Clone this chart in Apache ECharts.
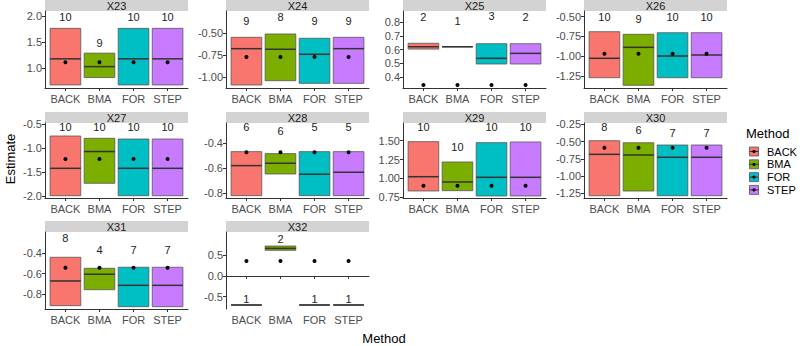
<!DOCTYPE html>
<html><head><meta charset="utf-8">
<script src="https://cdn.jsdelivr.net/npm/echarts@6/dist/echarts.min.js"></script>
<style>html,body{margin:0;padding:0;background:#fff}#c{width:800px;height:346px}</style>
</head><body><div id="c"></div>
<script>
// ---- data ----
const methods = ['BACK', 'BMA', 'FOR', 'STEP'];
const panels = ['X23', 'X24', 'X25', 'X26', 'X27', 'X28', 'X29', 'X30', 'X31', 'X32'];
const lowerVals = [
  [0.679, 0.82, 0.679, 0.679],
  [-1.091, -1.042, -1.072, -1.072],
  [0.604, 0.621, 0.496, 0.496],
  [-1.275, -1.371, -1.275, -1.275],
  [-1.994, -1.735, -1.994, -1.994],
  [-0.819, -0.646, -0.819, -0.819],
  [0.834, 0.838, 0.768, 0.768],
  [-1.285, -1.217, -1.285, -1.285],
  [-0.915, -0.758, -0.925, -0.925],
  [-0.699, 0.613, -0.699, -0.699]
];
const medianVals = [
  [1.179, 1.03, 1.179, 1.179],
  [-0.678, -0.685, -0.742, -0.678],
  [0.621, 0.621, 0.537, 0.573],
  [-1.029, -0.890, -1.0, -0.987],
  [-1.421, -1.07, -1.421, -1.421],
  [-0.579, -0.56, -0.648, -0.632],
  [1.023, 0.953, 1.015, 1.015],
  [-0.685, -0.695, -0.728, -0.728],
  [-0.672, -0.606, -0.715, -0.715],
  [-0.699, 0.66, -0.699, -0.699]
];
const upperVals = [
  [1.763, 1.288, 1.763, 1.763],
  [-0.549, -0.511, -0.560, -0.549],
  [0.646, 0.621, 0.643, 0.643],
  [-0.692, -0.725, -0.705, -0.705],
  [-0.745, -0.793, -0.808, -0.808],
  [-0.467, -0.483, -0.467, -0.467],
  [1.487, 1.218, 1.474, 1.483],
  [-0.488, -0.517, -0.55, -0.55],
  [-0.439, -0.547, -0.537, -0.537],
  [-0.699, 0.716, -0.699, -0.699]
];
const meanVals = [1.115, -0.773, 0.343, -0.971, -1.226, -0.472, 0.904, -0.589, -0.541, 0.356];
const countVals = [
  [10, 9, 10, 10],
  [9, 8, 9, 9],
  [2, 1, 3, 2],
  [10, 9, 10, 10],
  [10, 10, 10, 10],
  [6, 6, 5, 5],
  [10, 10, 10, 10],
  [8, 6, 7, 7],
  [8, 4, 7, 7],
  [1, 2, 1, 1]
];
const countLabelY = [
  [1.98, 1.48, 1.98, 1.98],
  [-0.36, -0.32, -0.36, -0.36],
  [0.838, 0.81, 0.846, 0.838],
  [-0.51, -0.535, -0.51, -0.51],
  [-0.563, -0.563, -0.563, -0.563],
  [-0.272, -0.299, -0.272, -0.272],
  [1.677, 1.413, 1.677, 1.677],
  [-0.293, -0.333, -0.372, -0.372],
  [-0.252, -0.367, -0.367, -0.367],
  [-0.562, 0.876, -0.562, -0.562]
];
const yRanges = [
  [0.62, 2.096], [-1.125, -0.25], [0.322, 0.88], [-1.405, -0.43],
  [-2.042, -0.473], [-0.838, -0.238], [0.741, 1.734], [-1.318, -0.231],
  [-0.948, -0.19], [-0.795, 1.052]
];
const yTicks = [
  [1.0, 1.5, 2.0], [-1.0, -0.75, -0.5], [0.4, 0.5, 0.6, 0.7, 0.8], [-1.25, -1.0, -0.75, -0.5],
  [-2.0, -1.5, -1.0, -0.5], [-0.8, -0.6, -0.4], [0.75, 1.0, 1.25, 1.5], [-1.25, -1.0, -0.75, -0.5, -0.25],
  [-0.8, -0.6, -0.4], [-0.5, 0.0, 0.5]
];
const yDecimals = [1, 2, 1, 2, 1, 1, 2, 2, 1, 1];

// ---- styling / layout ----
const colors = ['#F8766D', '#7CAE00', '#00BFC4', '#C77CFF'];
const FONT = '"Liberation Sans", Arial, sans-serif';
const colLeft = [45, 226, 403, 584];
const panelW = 143;
const rowTop = [11, 123, 232];
const rowBottom = [88, 198, 309];
const stripH = 11;

const grids = [], xAxes = [], yAxes = [], series = [], graphics = [];
panels.forEach((name, p) => {
  const c = p % 4, r = Math.floor(p / 4);
  grids.push({left: colLeft[c], width: panelW, top: rowTop[r], height: rowBottom[r] - rowTop[r], containLabel: false});
  xAxes.push({
    type: 'value', gridIndex: p, min: 0.4, max: 4.6,
    axisLine: {show: true, lineStyle: {color: '#333', width: 1}},
    axisTick: {show: true, length: 3, customValues: [1, 2, 3, 4], lineStyle: {color: '#333'}},
    axisLabel: {customValues: [1, 2, 3, 4], formatter: v => methods[Math.round(v) - 1], color: '#4d4d4d', fontSize: 11, fontFamily: FONT, margin: 5},
    splitLine: {show: false}
  });
  const dec = yDecimals[p];
  yAxes.push({
    type: 'value', gridIndex: p, min: yRanges[p][0], max: yRanges[p][1],
    axisLine: {show: true, lineStyle: {color: '#333', width: 1}},
    axisTick: {show: true, length: 3, customValues: yTicks[p], lineStyle: {color: '#333'}},
    axisLabel: {customValues: yTicks[p], formatter: v => v.toFixed(dec), color: '#4d4d4d', fontSize: 11, fontFamily: FONT, margin: 3},
    splitLine: {show: false}
  });
  methods.forEach((m, k) => {
    series.push({
      type: 'custom', name: m, xAxisIndex: p, yAxisIndex: p,
      itemStyle: {color: colors[k]},
      data: [[k + 1, lowerVals[p][k], medianVals[p][k], upperVals[p][k], meanVals[p], countVals[p][k], countLabelY[p][k]]],
      renderItem: (params, api) => {
        const x = api.value(0), lo = api.value(1), md = api.value(2), hi = api.value(3);
        const mn = api.value(4), n = api.value(5), ly = api.value(6);
        const a = api.coord([x - 0.45, lo]);
        const b = api.coord([x + 0.45, hi]);
        const med = api.coord([x, md]);
        const mp = api.coord([x, mn]);
        const lp = api.coord([x, ly]);
        return {type: 'group', children: [
          {type: 'rect', shape: {x: a[0], y: b[1], width: b[0] - a[0], height: Math.max(a[1] - b[1], 0)},
           style: {fill: colors[k], stroke: '#555', lineWidth: 0.8}},
          {type: 'line', shape: {x1: a[0], y1: med[1], x2: b[0], y2: med[1]}, style: {stroke: '#333', lineWidth: 1.5}},
          {type: 'circle', shape: {cx: mp[0], cy: mp[1], r: 2}, style: {fill: '#000'}},
          {type: 'text', x: lp[0], y: lp[1], style: {text: String(n), align: 'center', verticalAlign: 'middle', fontSize: 11, fontFamily: FONT, fill: '#222'}}
        ]};
      }
    });
  });
  graphics.push({type: 'rect', left: colLeft[c], top: rowTop[r] - stripH, shape: {width: panelW, height: stripH}, style: {fill: '#d3d3d3'}, silent: true});
  graphics.push({type: 'text', x: colLeft[c] + panelW / 2, y: rowTop[r] - stripH / 2 + 0.5, style: {text: name, align: 'center', verticalAlign: 'middle', fontSize: 11, fontFamily: FONT, fill: '#1a1a1a'}});
});

// axis titles
graphics.push({type: 'text', x: 384, y: 338, style: {text: 'Method', align: 'center', verticalAlign: 'middle', fontSize: 13, fontFamily: FONT, fill: '#000'}});
graphics.push({type: 'text', x: 10, y: 159, rotation: Math.PI / 2, style: {text: 'Estimate', align: 'center', verticalAlign: 'middle', fontSize: 13, fontFamily: FONT, fill: '#000'}});

// legend
graphics.push({type: 'text', x: 746, y: 133, style: {text: 'Method', align: 'left', verticalAlign: 'middle', fontSize: 13, fontFamily: FONT, fill: '#000'}});
methods.forEach((m, k) => {
  const yc = 151.5 + k * 12.8;
  graphics.push({type: 'rect', shape: {x: 749.5, y: yc - 4.5, width: 9, height: 9}, style: {fill: colors[k], stroke: '#555', lineWidth: 0.8}});
  graphics.push({type: 'line', shape: {x1: 749.5, y1: yc, x2: 758.5, y2: yc}, style: {stroke: '#333', lineWidth: 1}});
  graphics.push({type: 'circle', shape: {cx: 754, cy: yc, r: 1.6}, style: {fill: '#000'}});
  graphics.push({type: 'text', x: 767, y: yc, style: {text: m, align: 'left', verticalAlign: 'middle', fontSize: 11, fontFamily: FONT, fill: '#000'}});
});

const chart = echarts.init(document.getElementById('c'), null, {renderer: 'svg'});
chart.setOption({
  animation: false,
  grid: grids, xAxis: xAxes, yAxis: yAxes, series: series, graphic: graphics
});
</script>
</body></html>
